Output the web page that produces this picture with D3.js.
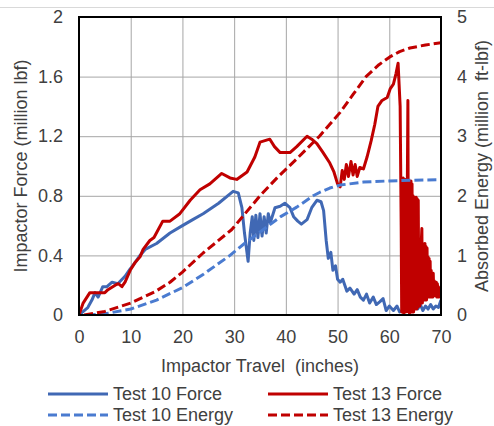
<!DOCTYPE html>
<html>
<head>
<meta charset="utf-8">
<script src="https://cdn.jsdelivr.net/npm/d3@7"></script>
<style>
  body { margin: 0; background: #fff; }
  text { font-family: "Liberation Sans", Arial, sans-serif; fill: #404040; }
</style>
</head>
<body>
<svg id="chart" width="494" height="426"></svg>
<script>
// Axis ticks
var travelTicks = [0, 10, 20, 30, 40, 50, 60, 70];
var forceTicks = [0, 0.4, 0.8, 1.2, 1.6, 2];
var forceLabels = ["0", "0.4", "0.8", "1.2", "1.6", "2"];
var energyTicks = [0, 1, 2, 3, 4, 5];
var energyLabels = ["0", "1", "2", "3", "4", "5"];

// [travel (in), force (million lbf)]
var test10Force = [
  [0, 0], [1.7, 0.05], [2.5, 0.1], [3.1, 0.15], [3.7, 0.12], [4.6, 0.19], [5.4, 0.19],
  [6.4, 0.22], [7.5, 0.21], [8.9, 0.26], [9.9, 0.31], [10.8, 0.35], [11.8, 0.4],
  [12.8, 0.44], [15, 0.48], [17.6, 0.55], [20, 0.6], [22, 0.64], [24, 0.68], [27, 0.75],
  [29.8, 0.83], [30.8, 0.82], [31.5, 0.72], [32, 0.55], [32.7, 0.36], [33.1, 0.55],
  [33.5, 0.66], [33.8, 0.5], [34.2, 0.67], [34.6, 0.52], [35, 0.68], [35.4, 0.53],
  [35.8, 0.66], [36.2, 0.55], [36.6, 0.68], [37, 0.62], [37.9, 0.72], [38.9, 0.73],
  [39.8, 0.75], [40.8, 0.72], [41.5, 0.66], [42.3, 0.63], [43, 0.61], [44.1, 0.64],
  [45, 0.72], [46, 0.77], [46.8, 0.76], [47.3, 0.7], [47.8, 0.5], [48.2, 0.38],
  [48.7, 0.42], [49.1, 0.3], [49.6, 0.33], [50, 0.24], [50.5, 0.22], [51, 0.24],
  [51.8, 0.16], [52.4, 0.18], [53.2, 0.14], [53.8, 0.17], [54.4, 0.12], [55, 0.1],
  [55.6, 0.14], [56.2, 0.08], [56.9, 0.12], [57.5, 0.07], [58.2, 0.09], [58.8, 0.11],
  [59.4, 0.03], [60, 0.06], [60.8, 0.03], [61.5, 0.06], [62, 0.02], [63, 0.04],
  [64, 0.03], [65, 0.05], [65.5, 0.04], [66, 0.07], [66.5, 0.03], [67, 0.06],
  [67.5, 0.04], [68, 0.07], [68.5, 0.04], [69, 0.06], [69.5, 0.05], [70, 0.1]
];

var test13Force = [
  [0, 0], [0.8, 0.08], [2.1, 0.15], [3.5, 0.15], [5, 0.15], [5.6, 0.17], [7, 0.2],
  [7.6, 0.21], [8.3, 0.19], [8.9, 0.22], [9.9, 0.3], [10.8, 0.35], [11.8, 0.39],
  [12.4, 0.44], [13.7, 0.5], [14.5, 0.52], [16.2, 0.63], [17.6, 0.63], [19.5, 0.68],
  [21.5, 0.77], [23.4, 0.84], [25.3, 0.88], [27.6, 0.95], [29.2, 0.92], [30.5, 0.91],
  [32.5, 0.96], [34, 1.06], [35, 1.16], [36.9, 1.18], [37.8, 1.13], [38.9, 1.09],
  [40.8, 1.09], [42.1, 1.13], [44.1, 1.2], [45, 1.18], [46, 1.15], [47.2, 1.09],
  [48.5, 1.02], [49.3, 0.96], [50, 0.88], [50.5, 0.86], [50.9, 0.97], [51.3, 0.91],
  [51.7, 1.01], [52.1, 0.93], [52.6, 1.03], [53, 0.94], [53.4, 1.01], [53.8, 0.93],
  [54.3, 0.99], [55, 0.98], [55.7, 1.06], [56.5, 1.17], [57.2, 1.28], [57.8, 1.4],
  [58.6, 1.44], [59.6, 1.46], [60.2, 1.52], [60.8, 1.55], [61.3, 1.62], [61.7, 1.69],
  [62.1, 1.4], [62.3, 0.6], [62.4, 0.02], [62.5, 0.9], [62.6, 0.02], [62.7, 0.92],
  [62.8, 0.01], [62.9, 0.9], [63.0, 0.02], [63.1, 0.91], [63.2, 0.02], [63.3, 0.9],
  [63.4, 0.03], [63.5, 0.92], [63.6, 1.44], [63.7, 0.02], [63.8, 0.9], [63.9, 0.01],
  [64.0, 0.89], [64.1, 0.02], [64.2, 0.9], [64.3, 0.02], [64.4, 0.88], [64.5, 0.03],
  [64.6, 0.8], [64.7, 0.02], [64.8, 0.79], [64.9, 0.04], [65.0, 0.78], [65.1, 0.05],
  [65.2, 0.79], [65.3, 0.04], [65.4, 0.78], [65.5, 0.05], [65.6, 0.77], [65.7, 0.08],
  [65.8, 0.5], [65.9, 0.06], [66.0, 0.48], [66.1, 0.1], [66.2, 0.5], [66.3, 0.58],
  [66.4, 0.08], [66.5, 0.48], [66.6, 0.12], [66.7, 0.47], [66.8, 0.1], [66.9, 0.48],
  [67.0, 0.13], [67.1, 0.46], [67.2, 0.1], [67.3, 0.45], [67.4, 0.14], [67.5, 0.39],
  [67.6, 0.12], [67.7, 0.38], [67.8, 0.15], [67.9, 0.36], [68.0, 0.12], [68.1, 0.3],
  [68.2, 0.14], [68.3, 0.27], [68.4, 0.12], [68.5, 0.28], [68.6, 0.15], [68.7, 0.23],
  [68.8, 0.13], [68.9, 0.22], [69.0, 0.14], [69.1, 0.22], [69.2, 0.12], [69.3, 0.21],
  [69.4, 0.14], [69.5, 0.19], [69.6, 0.12], [69.7, 0.18], [69.8, 0.13], [69.9, 0.17],
  [70, 0.16]
];

// [travel (in), energy (million ft-lbf)]
var test10Energy = [
  [1.5, 0], [5, 0.02], [10, 0.1], [15, 0.25], [20, 0.46], [24, 0.68], [29.2, 1.0],
  [32, 1.2], [35.6, 1.43], [39, 1.65], [42.1, 1.81], [45.3, 2.0], [46.6, 2.06],
  [48.5, 2.13], [50.5, 2.18], [55, 2.23], [60, 2.25], [64, 2.26], [70, 2.27]
];

var test13Energy = [
  [1, 0], [3, 0.03], [5, 0.06], [10, 0.2], [14.7, 0.39], [17.6, 0.55], [20, 0.72],
  [24, 1.04], [29.5, 1.43], [35, 2.0], [38.5, 2.32], [42.1, 2.62], [46.5, 3.0],
  [48.5, 3.2], [50.5, 3.4], [53, 3.7], [55.5, 4.0], [58, 4.2], [60.1, 4.33],
  [62, 4.42], [64, 4.48], [67, 4.53], [70, 4.57]
];

var seriesNames = ["Test 10 Force", "Test 13 Force", "Test 10 Energy", "Test 13 Energy"];

var svg = d3.select("#chart"),
    margin = {top: 17, left: 79, bottom: 111, right: 53},
    width = +svg.attr("width") - margin.left - margin.right,
    height = +svg.attr("height") - margin.top - margin.bottom;

var fontSize = 18;

// outer chart border line at top
svg.append("line")
    .attr("x1", 0).attr("x2", 494)
    .attr("y1", 7.5).attr("y2", 7.5)
    .attr("stroke", "#d9d9d9");

var x = d3.scaleLinear().domain([0, 70]).range([margin.left, margin.left + width]);
var yForce = d3.scaleLinear().domain([0, 2]).range([margin.top + height, margin.top]);
var yEnergy = d3.scaleLinear().domain([0, 5]).range([margin.top + height, margin.top]);

// gridlines
svg.append("g")
    .attr("transform", `translate(0,${margin.top + height})`)
    .call(d3.axisBottom(x).tickValues(travelTicks).tickSize(-height).tickFormat(""))
    .call(g => g.select(".domain").remove())
    .call(g => g.selectAll("line").attr("stroke", "#a6a6a6"));

svg.append("g")
    .attr("transform", `translate(${margin.left},0)`)
    .call(d3.axisLeft(yForce).tickValues(forceTicks).tickSize(-width).tickFormat(""))
    .call(g => g.select(".domain").remove())
    .call(g => g.selectAll("line").attr("stroke", "#a6a6a6"));

function styleTicks(g) {
    g.select(".domain").remove();
    g.selectAll("text")
        .attr("font-size", fontSize)
        .attr("fill", "#404040")
        .attr("font-family", "Liberation Sans, Arial, sans-serif");
}

// tick labels
svg.append("g")
    .attr("transform", `translate(0,${margin.top + height})`)
    .call(d3.axisBottom(x).tickValues(travelTicks).tickSize(0).tickPadding(15))
    .call(styleTicks);

svg.append("g")
    .attr("transform", `translate(${margin.left},0)`)
    .call(d3.axisLeft(yForce).tickValues(forceTicks).tickSize(0).tickPadding(16)
        .tickFormat((d, i) => forceLabels[i]))
    .call(styleTicks);

svg.append("g")
    .attr("transform", `translate(${margin.left + width},0)`)
    .call(d3.axisRight(yEnergy).tickValues(energyTicks).tickSize(0).tickPadding(16)
        .tickFormat((d, i) => energyLabels[i]))
    .call(styleTicks);

// clip to plot area
svg.append("clipPath").attr("id", "plot")
    .append("rect")
    .attr("x", margin.left).attr("y", margin.top - 2)
    .attr("width", width).attr("height", height + 2);

var forceLine = d3.line().x(d => x(d[0])).y(d => yForce(d[1]));
var energyLine = d3.line().x(d => x(d[0])).y(d => yEnergy(d[1]));

var plot = svg.append("g").attr("clip-path", "url(#plot)");

var styles = [
    {data: test10Force, line: forceLine, color: "#4068b4", dash: null},
    {data: test13Force, line: forceLine, color: "#c00000", dash: null},
    {data: test10Energy, line: energyLine, color: "#4a7bd0", dash: "9,4"},
    {data: test13Energy, line: energyLine, color: "#c00000", dash: "9,4"}
];

styles.forEach(s => {
    plot.append("path")
        .datum(s.data)
        .attr("fill", "none")
        .attr("stroke", s.color)
        .attr("stroke-width", 3)
        .attr("stroke-linejoin", "round")
        .attr("stroke-dasharray", s.dash)
        .attr("d", s.line);
});

// plot frame
svg.append("rect")
    .attr("x", margin.left).attr("y", margin.top)
    .attr("width", width).attr("height", height)
    .attr("fill", "none")
    .attr("stroke", "#000")
    .attr("stroke-width", 2);

// axis titles
svg.append("text")
    .attr("x", margin.left + width / 2)
    .attr("y", 372)
    .attr("font-size", fontSize)
    .style("text-anchor", "middle")
    .style("white-space", "pre")
    .text("Impactor Travel  (inches)");

svg.append("text")
    .attr("transform", `translate(27,${margin.top + height / 2}) rotate(-90)`)
    .attr("font-size", fontSize)
    .style("text-anchor", "middle")
    .text("Impactor Force (million lbf)");

svg.append("text")
    .attr("transform", `translate(488,${margin.top + height / 2}) rotate(-90)`)
    .attr("font-size", fontSize)
    .style("text-anchor", "middle")
    .style("white-space", "pre")
    .text("Absorbed Energy (million  ft-lbf)");

// legend
var legend = svg.selectAll(".legend")
    .data(seriesNames)
    .enter().append("g")
    .attr("class", "legend")
    .attr("transform", (d, i) => `translate(${i % 2 ? 268 : 48},${i < 2 ? 394 : 415})`);

legend.append("line")
    .attr("x1", 0).attr("x2", 60)
    .attr("y1", 0).attr("y2", 0)
    .attr("stroke", (d, i) => styles[i].color)
    .attr("stroke-width", 3)
    .attr("stroke-dasharray", (d, i) => styles[i].dash);

legend.append("text")
    .attr("x", 65)
    .attr("y", 6)
    .attr("font-size", fontSize)
    .text(d => d);
</script>
</body>
</html>
